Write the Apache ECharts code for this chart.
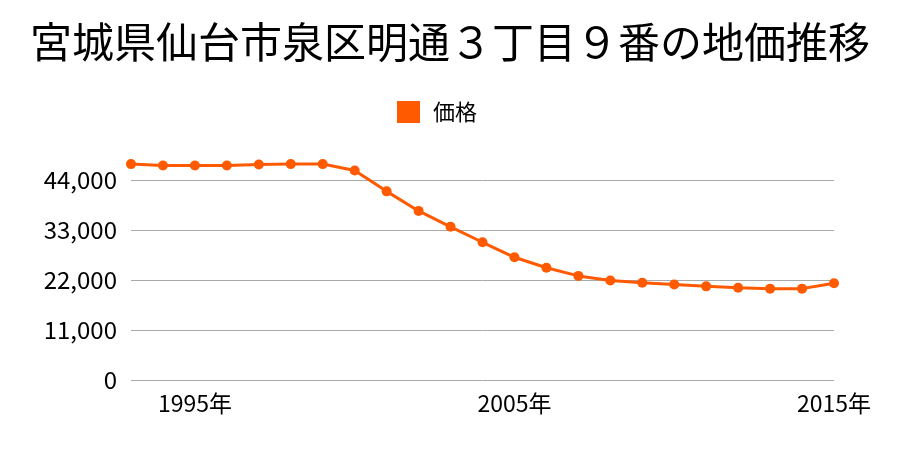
<!DOCTYPE html>
<html><head><meta charset="utf-8">
<script src="https://cdn.jsdelivr.net/npm/echarts@6/dist/echarts.min.js"></script>
<style>html,body{margin:0;padding:0;background:#fff}#c{width:900px;height:450px}</style>
</head><body><div id="c"></div>
<script>
const titleText = '宮城県仙台市泉区明通３丁目９番の地価推移';
const seriesName = '価格';
const years = ['1993','1994','1995','1996','1997','1998','1999','2000','2001','2002','2003','2004','2005','2006','2007','2008','2009','2010','2011','2012','2013','2014','2015'];
const prices = [47500,47200,47200,47200,47400,47500,47500,46100,41500,37200,33700,30300,27000,24700,22900,21900,21400,21000,20600,20300,20100,20100,21300];
const yTicks = [0,11000,22000,33000,44000];

const F = '"Noto Sans CJK JP", sans-serif';
const chart = echarts.init(document.getElementById('c'));
chart.setOption({
  animation:false,
  backgroundColor:'#fff',
  title:{text:titleText,left:'center',top:16,textStyle:{fontFamily:F,fontSize:42,fontWeight:'normal',color:'#000'}},
  legend:{data:[seriesName],top:96,left:392,icon:'rect',itemWidth:23,itemHeight:22,
    textStyle:{fontFamily:F,fontSize:22,color:'#000',padding:[0,0,0,8]}},
  grid:{left:131,right:66,top:180,bottom:70,containLabel:false},
  xAxis:{type:'category',data:years,boundaryGap:false,
    axisLine:{show:false},axisTick:{show:false},
    axisLabel:{interval:function(i,v){return (+v)%10===5;},formatter:v=>v+'年',fontFamily:F,fontSize:23,color:'#000',margin:12},
    splitLine:{show:false}},
  yAxis:{type:'value',min:yTicks[0],max:yTicks[yTicks.length-1],interval:11000,
    axisLine:{show:false},axisTick:{show:false},
    axisLabel:{fontFamily:F,fontSize:24,color:'#000',margin:14,formatter:v=>v.toLocaleString('en-US')},
    splitLine:{lineStyle:{color:'#aaa',width:1}}},
  series:[{name:seriesName,type:'line',data:prices,clip:false,symbol:'circle',symbolSize:10,
    lineStyle:{width:3,color:'#ff5a00'},itemStyle:{color:'#ff5a00'}}]
});
</script></body></html>
